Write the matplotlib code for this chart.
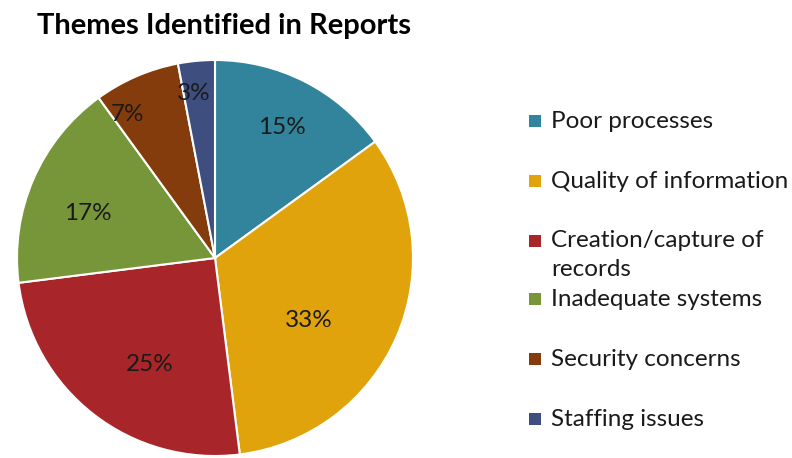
#! /usr/bin/env python
"""Pie chart of themes identified in reports."""

import numpy as np
import matplotlib
matplotlib.use("Agg")
import matplotlib.pyplot as plt
from matplotlib.patches import Rectangle

# Chart data
themes = [
    "Poor processes",
    "Quality of information",
    "Creation/capture of\nrecords",
    "Inadequate systems",
    "Security concerns",
    "Staffing issues",
]
shares = [15, 33, 25, 17, 7, 3]
colors = ["#31849B", "#E0A30B", "#A8262A", "#77963A", "#843C0C", "#3E4E7E"]

# label distance from centre (fraction of radius) and angle nudges, Excel "best fit"-ish
label_r = [0.74, 0.57, 0.63, 0.68, 0.85, 0.84]
label_da = [0, -10, 6, 4, 8, 2]

plt.rcParams["font.family"] = ["Lato", "DejaVu Sans"]


def main():
    fig = plt.figure(figsize=(7.92, 4.58), dpi=100)
    W, H = 792, 458

    cx, cy, rad = 215, 258, 198
    ax = fig.add_axes([(cx - rad) / W, (H - cy - rad) / H, 2 * rad / W, 2 * rad / H])
    wedges, _ = ax.pie(
        shares,
        colors=colors,
        startangle=90,
        counterclock=False,
        radius=1,
        wedgeprops=dict(edgecolor="white", linewidth=1.5),
    )
    ax.set_xlim(-1, 1)
    ax.set_ylim(-1, 1)
    ax.set_aspect("equal")
    ax.axis("off")

    for w, s, r, da in zip(wedges, shares, label_r, label_da):
        mid = np.deg2rad((w.theta1 + w.theta2) / 2 + da)
        ax.text(r * np.cos(mid), r * np.sin(mid), f"{s}%",
                ha="center", va="center", fontsize=17.5, color="#1a1a1a")

    fig.text(224 / W, 1 - 26 / H, "Themes Identified in Reports",
             ha="center", va="center", fontsize=21, fontweight="bold")

    # manual legend to keep Excel-like spacing
    ys = [121, 181, 241, 299, 359, 419]
    for lab, col, y in zip(themes, colors, ys):
        fig.patches.append(Rectangle((529 / W, 1 - (y + 6) / H), 12 / W, 12 / H,
                                     transform=fig.transFigure, facecolor=col,
                                     edgecolor="none"))
        lines = lab.split("\n")
        for i, ln in enumerate(lines):
            fig.text(551 / W, 1 - (y + i * 29) / H, ln, ha="left", va="center",
                     fontsize=17.5, color="#1a1a1a")

    fig.savefig("out.png", dpi=100)


if __name__ == "__main__":
    main()
